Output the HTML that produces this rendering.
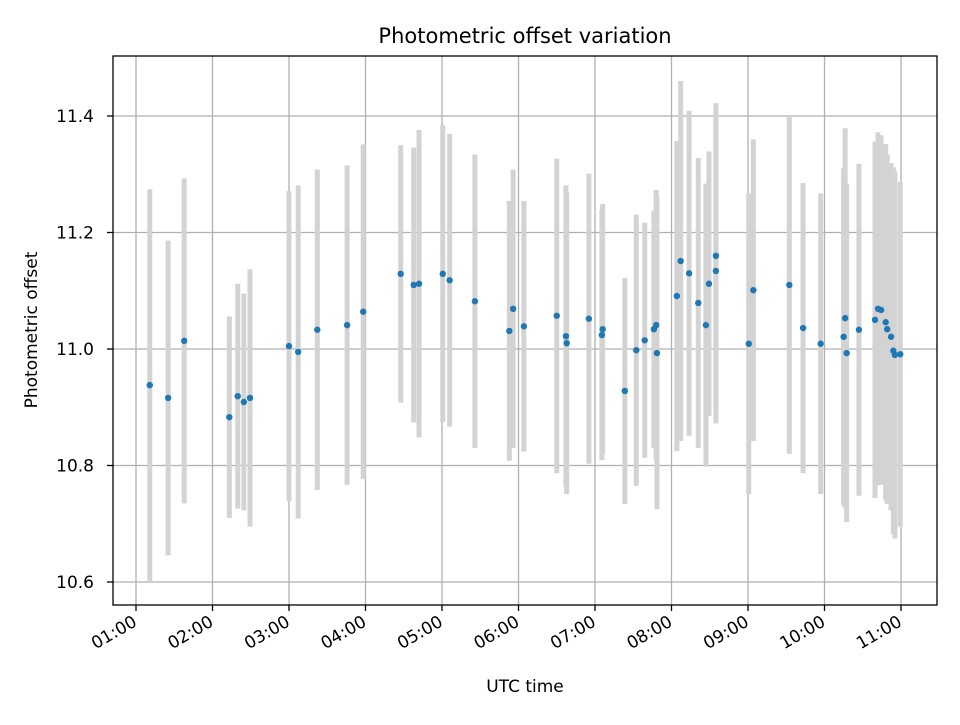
<!DOCTYPE html>
<html><head><meta charset="utf-8"><style>
body{margin:0;background:#fff;}
svg text{font-family:"DejaVu Sans","Liberation Sans",sans-serif;fill:#000;}
</style></head><body>
<svg id="chart" width="960" height="720" xmlns="http://www.w3.org/2000/svg">
<rect x="0" y="0" width="960" height="720" fill="#fff"/>
<text x="525" y="43" font-size="21" text-anchor="middle">Photometric offset variation</text>
<g id="grid"></g><g id="bars"></g><g id="pts"></g><g id="axes"></g>
<text x="525" y="692" font-size="17" text-anchor="middle">UTC time</text>
<text x="0" y="0" font-size="17" text-anchor="middle" transform="translate(37,330) rotate(-90)">Photometric offset</text>
</svg>
<script>
const times=[1.18,1.42,1.63,2.22,2.33,2.41,2.49,3.00,3.12,3.37,3.76,3.97,4.46,4.63,4.70,5.01,5.10,5.43,5.88,5.93,6.07,6.50,6.62,6.63,6.92,7.09,7.10,7.39,7.54,7.65,7.77,7.80,7.81,8.07,8.12,8.23,8.35,8.45,8.49,8.58,8.58,9.01,9.07,9.54,9.72,9.95,10.25,10.27,10.29,10.45,10.66,10.70,10.74,10.80,10.82,10.87,10.90,10.92,10.99];
const values=[10.938,10.916,11.014,10.883,10.919,10.909,10.916,11.005,10.995,11.033,11.041,11.064,11.129,11.110,11.112,11.129,11.118,11.082,11.031,11.069,11.039,11.057,11.022,11.010,11.052,11.024,11.034,10.928,10.998,11.015,11.034,11.041,10.993,11.091,11.151,11.130,11.079,11.041,11.112,11.160,11.134,11.009,11.101,11.110,11.036,11.009,11.021,11.053,10.993,11.033,11.050,11.069,11.067,11.046,11.034,11.021,10.997,10.990,10.991];
const errors=[0.336,0.270,0.279,0.173,0.193,0.186,0.221,0.266,0.286,0.275,0.274,0.287,0.221,0.236,0.264,0.255,0.251,0.252,0.223,0.239,0.215,0.270,0.259,0.259,0.249,0.215,0.215,0.194,0.233,0.202,0.204,0.232,0.268,0.266,0.309,0.279,0.249,0.243,0.227,0.262,0.262,0.258,0.259,0.290,0.249,0.258,0.289,0.326,0.290,0.285,0.306,0.303,0.300,0.306,0.300,0.298,0.315,0.315,0.296];
const yTicks=[10.6,10.8,11.0,11.2,11.4];
const yTickLabels=["10.6","10.8","11.0","11.2","11.4"];
const xTicks=[1,2,3,4,5,6,7,8,9,10,11];
const xTickLabels=["01:00","02:00","03:00","04:00","05:00","06:00","07:00","08:00","09:00","10:00","11:00"];

const NS="http://www.w3.org/2000/svg";
const L=113,R=937,T=56,B=605;
function xs(h){return 136+(h-1)*76.5;}
function ys(v){return 349-(v-11)*582.5;}
function mk(tag,attrs,parent){const e=document.createElementNS(NS,tag);for(const k in attrs)e.setAttribute(k,attrs[k]);parent.appendChild(e);return e;}
const grid=document.getElementById('grid'),bars=document.getElementById('bars'),pts=document.getElementById('pts'),axes=document.getElementById('axes');
xTicks.forEach((t,i)=>{
  const x=xs(t);
  const g=mk('line',{x1:x,x2:x,y1:T,y2:B,stroke:'#b0b0b0','stroke-width':1.3},grid);
  
  
  const tk=mk('line',{x1:x,x2:x,y1:B,y2:B+6,stroke:'#000','stroke-width':1.3},axes);
  
  
  const tx=mk('text',{x:0,y:0,'font-size':17,'text-anchor':'end',transform:`translate(${x+2},${B+20}) rotate(-30)`},axes);
  tx.textContent=xTickLabels[i];
  
  
});
yTicks.forEach((t,i)=>{
  const y=ys(t);
  const g=mk('line',{x1:L,x2:R,y1:y,y2:y,stroke:'#b0b0b0','stroke-width':1.3},grid);
  
  
  const tk=mk('line',{x1:L-6,x2:L,y1:y,y2:y,stroke:'#000','stroke-width':1.3},axes);
  
  
  const tx=mk('text',{x:L-19,y:y+6,'font-size':17,'text-anchor':'end'},axes);
  tx.textContent=yTickLabels[i];
  
  
});
times.forEach((t,i)=>{
  const x=xs(t);
  const b=mk('line',{x1:x,x2:x,y1:ys(values[i]+errors[i]),y2:ys(values[i]-errors[i]),stroke:'#d3d3d3','stroke-width':5},bars);
  
  
  const p=mk('circle',{cx:x,cy:ys(values[i]),r:3.2,fill:'#1f77b4'},pts);
  
  
});
const frame=mk('rect',{x:L,y:T,width:R-L,height:B-T,fill:'none',stroke:'#000','stroke-width':1.3},axes);


</script>
</body></html>
